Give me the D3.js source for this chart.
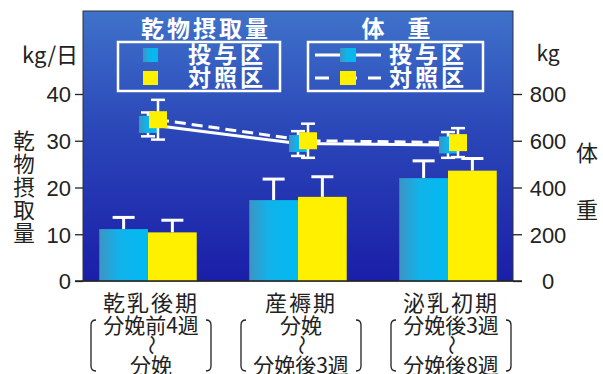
<!DOCTYPE html>
<html><head><meta charset="utf-8">
<script src="https://cdn.jsdelivr.net/npm/d3@7"></script>
<style>
html,body{margin:0;padding:0;background:#fff;}
svg{display:block;}
text{font-family:"Noto Sans CJK JP","Noto Sans",sans-serif;}
.num{font-family:"Liberation Sans",Arial,sans-serif;}
</style></head>
<body>
<svg id="c" width="603" height="374"></svg>
<script>
// ---- data ----
const categories = ["乾乳後期", "産褥期", "泌乳初期"];
const periodLines = [
  ["分娩前4週", "分娩"],
  ["分娩", "分娩後3週"],
  ["分娩後3週", "分娩後8週"]
];
const seriesNames = ["投与区", "対照区"];
const intakeTreat = [11.1, 17.3, 22.0];
const intakeTreatErr = [2.5, 4.5, 3.7];
const intakeCtrl = [10.4, 18.0, 23.6];
const intakeCtrlErr = [2.6, 4.3, 2.6];
const weightTreat = [670, 588, 582];
const weightTreatErr = [51, 53, 55];
const weightCtrl = [690, 600, 592];
const weightCtrlErr = [85, 73, 62];
const leftTicks = [0, 10, 20, 30, 40];
const rightTicks = [0, 200, 400, 600, 800];

// ---- layout ----
const svg = d3.select("#c");
const P = {l: 83, r: 513, t: 11, b: 281};
const x = d3.scaleBand().domain(categories).range([73, 523]).paddingInner(0.35).paddingOuter(0.175);
const xs = d3.scaleBand().domain([0, 1]).range([0, x.bandwidth()]);
const yL = d3.scaleLinear().domain([0, 40]).range([281, 94]);
const yR = d3.scaleLinear().domain([0, 800]).range([281, 94]);

const defs = svg.append("defs");
const bg = defs.append("linearGradient").attr("id", "bg").attr("x1", 0).attr("y1", 0).attr("x2", 0).attr("y2", 1);
bg.append("stop").attr("offset", "0%").attr("stop-color", "#3f72ca");
bg.append("stop").attr("offset", "45%").attr("stop-color", "#2a46b8");
bg.append("stop").attr("offset", "100%").attr("stop-color", "#1a1ea8");
const cg = defs.append("linearGradient").attr("id", "cy").attr("x1", 0).attr("y1", 0).attr("x2", 1).attr("y2", 0);
cg.append("stop").attr("offset", "0%").attr("stop-color", "#3d94c2");
cg.append("stop").attr("offset", "40%").attr("stop-color", "#12b2ea");
cg.append("stop").attr("offset", "100%").attr("stop-color", "#00baf2");

const CYAN = "url(#cy)", YEL = "#fff000", WHITE = "#ffffff", INK = "#222";

// plot background
svg.append("rect").attr("x", P.l).attr("y", P.t).attr("width", P.r - P.l).attr("height", P.b - P.t)
  .attr("fill", "url(#bg)").attr("stroke", "#333").attr("stroke-width", 1);

// bars
const intake = [intakeTreat, intakeCtrl], intakeErr = [intakeTreatErr, intakeCtrlErr];
const barFill = [CYAN, YEL];
[0, 1].forEach(s => {
  const g = svg.append("g");
  categories.forEach((c, i) => {
    const bx = x(c) + xs(s), bw = xs.bandwidth();
    const cx = bx + bw / 2;
    const top = yL(intake[s][i]), et = yL(intake[s][i] + intakeErr[s][i]);
    g.append("line").attr("x1", cx).attr("x2", cx).attr("y1", top).attr("y2", et).attr("stroke", WHITE).attr("stroke-width", 3);
    g.append("line").attr("x1", cx - 11).attr("x2", cx + 11).attr("y1", et).attr("y2", et).attr("stroke", WHITE).attr("stroke-width", 3);
    g.append("rect").attr("x", bx).attr("y", top).attr("width", bw).attr("height", yL(0) - top).attr("fill", barFill[s]);
  });
});

// weight lines
const weights = [weightTreat, weightCtrl], wErr = [weightTreatErr, weightCtrlErr];
const off = [0, 10];
const px = (c, s) => x(c) + x.bandwidth() / 2 + off[s];
const line = d3.line();
[0, 1].forEach(s => {
  svg.append("path").attr("d", line(categories.map((c, i) => [px(c, s), yR(weights[s][i])])))
    .attr("fill", "none").attr("stroke", WHITE).attr("stroke-width", 3)
    .attr("stroke-dasharray", s === 1 ? "11,6" : null);
});
// weight errors + squares
[0, 1].forEach(s => {
  const g = svg.append("g");
  categories.forEach((c, i) => {
    const cx = px(c, s), cy = yR(weights[s][i]);
    const t = yR(weights[s][i] + wErr[s][i]), b = yR(weights[s][i] - wErr[s][i]);
    g.append("line").attr("x1", cx).attr("x2", cx).attr("y1", t).attr("y2", b).attr("stroke", WHITE).attr("stroke-width", 2.5);
    [t, b].forEach(yy => g.append("line").attr("x1", cx - 7).attr("x2", cx + 7).attr("y1", yy).attr("y2", yy).attr("stroke", WHITE).attr("stroke-width", 2.5));
    g.append("rect").attr("x", cx - 9).attr("y", cy - 8.5).attr("width", 18).attr("height", 17).attr("fill", s ? YEL : CYAN);
  });
});

// axes
const axL = d3.axisLeft(yL).tickValues(leftTicks).tickSize(8).tickPadding(4);
const gL = svg.append("g").attr("transform", `translate(${P.l},0)`).call(axL);
gL.select(".domain").remove();
gL.selectAll("line").attr("stroke", INK).attr("stroke-width", 1.3);
gL.selectAll("text").attr("class", "num").attr("font-size", 22).attr("fill", INK).attr("dy", "0.36em");

const axR = d3.axisRight(yR).tickValues(rightTicks).tickSize(9).tickPadding(6);
const gR = svg.append("g").attr("transform", `translate(${P.r},0)`).call(axR);
gR.select(".domain").remove();
gR.selectAll("line").attr("stroke", INK).attr("stroke-width", 1.3);
gR.selectAll("text").attr("class", "num").attr("font-size", 22).attr("fill", INK).attr("dy", "0.36em")
  .attr("text-anchor", "middle").attr("x", 35);

// axis titles
svg.append("text").attr("x", 22).attr("y", 63).attr("font-size", 22).attr("fill", INK).text("kg/日");
svg.append("text").attr("x", 548).attr("y", 61).attr("font-size", 21).attr("fill", INK).attr("text-anchor", "middle").text("kg");
"乾物摂取量".split("").forEach((ch, i) => {
  svg.append("text").attr("x", 24).attr("y", 141.5 + i * 23).attr("dy", "0.36em").attr("font-size", 21.5)
    .attr("fill", INK).attr("text-anchor", "middle").text(ch);
});
"体重".split("").forEach((ch, i) => {
  svg.append("text").attr("x", 587).attr("y", 153 + i * 57).attr("dy", "0.36em").attr("font-size", 22)
    .attr("fill", INK).attr("text-anchor", "middle").text(ch);
});

// legend
const lg = svg.append("g");
lg.append("text").attr("x", 206).attr("y", 29).attr("dy", "0.36em").attr("font-size", 23).attr("font-weight", 700)
  .attr("letter-spacing", 3).attr("fill", WHITE).attr("text-anchor", "middle").text("乾物摂取量");
lg.append("text").attr("x", 396).attr("y", 29).attr("dy", "0.36em").attr("font-size", 23).attr("font-weight", 700)
  .attr("fill", WHITE).attr("text-anchor", "middle").attr("xml:space", "preserve").text("体　重");
lg.append("rect").attr("x", 118).attr("y", 42).attr("width", 162).attr("height", 49).attr("fill", "none").attr("stroke", WHITE).attr("stroke-width", 2.5);
lg.append("rect").attr("x", 308).attr("y", 42).attr("width", 175).attr("height", 49).attr("fill", "none").attr("stroke", WHITE).attr("stroke-width", 2.5);
const rows = [55, 78];
seriesNames.forEach((nm, s) => {
  lg.append("rect").attr("x", 143).attr("y", rows[s] - 7).attr("width", 15).attr("height", 14).attr("fill", s ? YEL : CYAN);
  lg.append("text").attr("x", 188).attr("y", rows[s]).attr("dy", "0.36em").attr("font-size", 23).attr("font-weight", 700)
    .attr("letter-spacing", 3).attr("fill", WHITE).text(nm);
  lg.append("line").attr("x1", 315).attr("x2", 381).attr("y1", rows[s]).attr("y2", rows[s]).attr("stroke", WHITE).attr("stroke-width", 3)
    .attr("stroke-dasharray", s ? "14,11,17,11,14" : null);
  lg.append("rect").attr("x", 340).attr("y", rows[s] - 7).attr("width", 16).attr("height", 14).attr("fill", s ? YEL : CYAN);
  lg.append("text").attr("x", 389).attr("y", rows[s]).attr("dy", "0.36em").attr("font-size", 23).attr("font-weight", 700)
    .attr("letter-spacing", 3).attr("fill", WHITE).text(nm);
});

// baseline
svg.append("line").attr("x1", 75).attr("x2", 522).attr("y1", yL(0)).attr("y2", yL(0)).attr("stroke", INK).attr("stroke-width", 1.3);

// category labels
categories.forEach((c, i) => {
  const cx = x(c) + x.bandwidth() / 2 + 3;
  const g = svg.append("g");
  g.append("text").attr("x", cx).attr("y", 303).attr("dy", "0.36em").attr("font-size", 22).attr("letter-spacing", 2)
    .attr("fill", INK).attr("text-anchor", "middle").text(c);
  g.append("text").attr("x", cx).attr("y", 325).attr("dy", "0.36em").attr("font-size", 21)
    .attr("fill", INK).attr("text-anchor", "middle").text(periodLines[i][0]);
  g.append("text").attr("transform", `translate(${cx},345) rotate(90)`).attr("dy", "0.36em").attr("font-size", 20)
    .attr("fill", INK).attr("text-anchor", "middle").text("～");
  g.append("text").attr("x", cx).attr("y", 365).attr("dy", "0.36em").attr("font-size", 21)
    .attr("fill", INK).attr("text-anchor", "middle").text(periodLines[i][1]);
  const L = cx - 60, R = cx + 60, t = 320, b = 371;
  g.append("path").attr("d", `M${L + 5},${t} Q${L},${t} ${L},${t + 5} L${L},${b - 5} Q${L},${b} ${L + 5},${b}`)
    .attr("fill", "none").attr("stroke", INK).attr("stroke-width", 1.3);
  g.append("path").attr("d", `M${R - 5},${t} Q${R},${t} ${R},${t + 5} L${R},${b - 5} Q${R},${b} ${R - 5},${b}`)
    .attr("fill", "none").attr("stroke", INK).attr("stroke-width", 1.3);
});
</script>
</body></html>
